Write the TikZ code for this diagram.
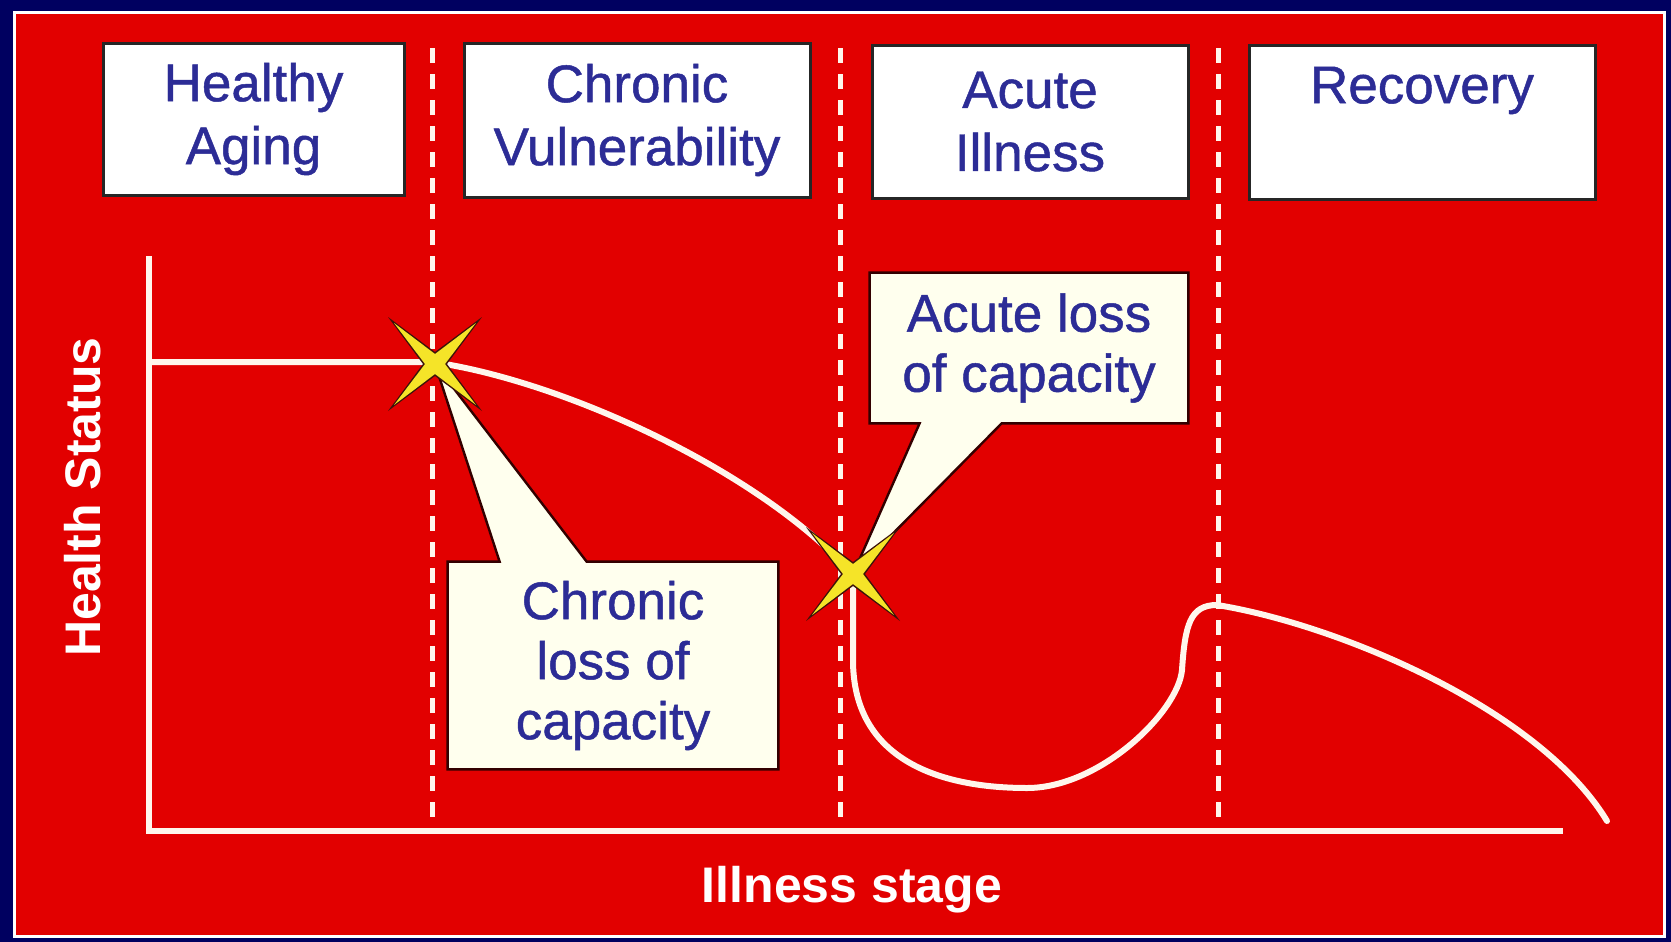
\documentclass[tikz,border=0pt]{standalone}
\usepackage{fontspec}
\setmainfont{Liberation Sans}
\newfontfamily\labelfont[FakeBold=0.9]{Liberation Sans}
\usetikzlibrary{calc}
\definecolor{navy}{RGB}{0,0,96}
\definecolor{bgred}{RGB}{226,0,0}
\definecolor{txtblue}{RGB}{44,44,150}
\definecolor{cream}{RGB}{255,255,238}
\definecolor{linecream}{RGB}{255,246,236}
\definecolor{staryellow}{RGB}{245,228,40}
\definecolor{starshadow}{RGB}{60,20,10}
\pgfdeclarelayer{bg}
\pgfdeclarelayer{mid}
\pgfsetlayers{bg,mid,main}
\begin{document}
\begin{tikzpicture}[x=0.5pt,y=-0.5pt,
  labeltext/.style={text=txtblue, align=center, inner sep=0pt,
    font=\labelfont\fontsize{26.5}{31.5}\selectfont},
  stagebox/.style={labeltext, draw=black!85, line width=1.5pt, fill=white},
  calltext/.style={labeltext, font=\labelfont\fontsize{26.5}{30}\selectfont},
  callshape/.style={draw=black!80!red, line width=1.2pt, fill=cream, line join=miter},
  axisline/.style={linecream, line width=3pt},
  stagesep/.style={linecream, line width=2.5pt, dash pattern=on 7.5pt off 5.5pt},
  healthcurve/.style={linecream, line width=3pt, line cap=round},
  axislabel/.style={text=white, font=\fontsize{25}{30}\selectfont\bfseries, inner sep=0pt},
  xstar/.pic={
    \fill[starshadow] (47,47) -- (0,12) -- (-47,47) -- (-12,0) -- (-47,-47) -- (0,-12) -- (47,-47) -- (12,0) -- cycle;
    \fill[staryellow] (41,41) -- (0,10) -- (-41,41) -- (-10,0) -- (-41,-41) -- (0,-10) -- (41,-41) -- (10,0) -- cycle;
  }]
\useasboundingbox (0,0) rectangle (1671,942);

\begin{pgfonlayer}{bg}
  \fill[navy] (0,0) rectangle (1671,942);
  \draw[white, line width=1.5pt, fill=bgred] (14,12) rectangle (1664,936);
  % stage separators
  \draw[stagesep] (432,48) -- (432,829);
  \draw[stagesep] (840,48) -- (840,829);
  \draw[stagesep] (1218,48) -- (1218,829);
  % axes
  \draw[axisline] (149,256) -- (149,831) -- (1563,831);
  % health status curve
  \draw[healthcurve] (149,362) -- (432,362)
    .. controls (560,380) and (760,470) .. (853,575)
    -- (853,660)
    .. controls (853,760) and (940,788) .. (1027,788)
    .. controls (1100,788) and (1178,712) .. (1182,670)
    .. controls (1185,625) and (1190,605) .. (1217,605)
    .. controls (1340,625) and (1540,710) .. (1607,821);
\end{pgfonlayer}

% stage header boxes
\node[stagebox, minimum width=150.5pt, minimum height=76pt] (ha) at (253.5,119) {Healthy\\Aging};
\node[stagebox, minimum width=173pt, minimum height=77pt] (cv) at (637,120) {Chronic\\Vulnerability};
\node[stagebox, minimum width=158pt, minimum height=76.5pt] (ai) at (1030,121.5) {Acute\\Illness};
\node[stagebox, minimum width=173pt, minimum height=77pt] (rc) at (1422,122) {Recovery\\\phantom{Ag}};

% event points
\coordinate (s1) at (435,364);
\coordinate (s2) at (853,574);

% callouts
\node[calltext, minimum width=165pt, minimum height=103.5pt] (c1) at (613,665.5) {Chronic\\loss of\\capacity};
\node[calltext, minimum width=159pt, minimum height=75pt] (c2) at (1029,348) {Acute loss\\of capacity};
\begin{pgfonlayer}{mid}
  \draw[callshape] (c1.north west) -- ($(c1.north west)+(52,0)$) -- (s1) -- ($(c1.north west)+(139,0)$)
    -- (c1.north east) -- (c1.south east) -- (c1.south west) -- cycle;
  \draw[callshape] (c2.north west) -- (c2.north east) -- (c2.south east)
    -- ($(c2.south west)+(132,0)$) -- (s2) -- ($(c2.south west)+(50,0)$) -- (c2.south west) -- cycle;
\end{pgfonlayer}

\pic at (s1) {xstar};
\pic at (s2) {xstar};

% axis labels
\node[axislabel, rotate=90] (ylab) at (83,497) {Health Status};
\node[axislabel] (xlab) at (852,890) {Illness stage};
\end{tikzpicture}
\end{document}
